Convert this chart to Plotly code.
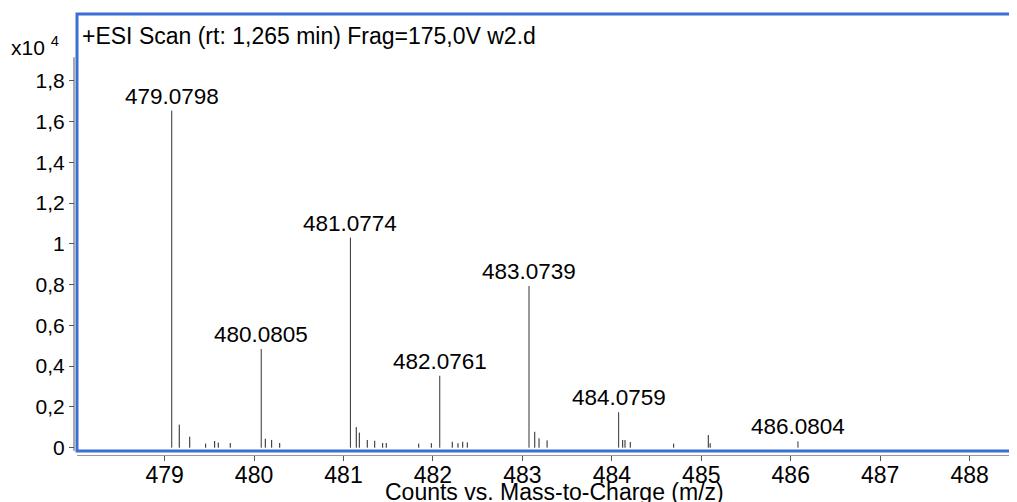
import plotly.graph_objects as go

# Labelled (main) peaks: m/z and intensity (counts)
main_mz = [479.0798, 480.0805, 481.0774, 482.0761, 483.0739, 484.0759, 486.0804]
main_int = [16530, 4840, 10300, 3530, 7930, 1740, 310]

# Minor unlabelled peaks
minor_mz = [479.164, 479.281, 479.459, 479.560, 479.600, 479.734,
            480.126, 480.197, 480.287,
            481.143, 481.177, 481.266, 481.349, 481.438, 481.478, 481.841, 481.982,
            482.216, 482.280, 482.333, 482.384,
            483.138, 483.186, 483.276,
            484.121, 484.147, 484.206, 484.691,
            485.078, 485.099]
minor_int = [1130, 540, 200, 330, 250, 230,
             440, 380, 230,
             1010, 740, 380, 340, 230, 230, 200, 220,
             290, 220, 290, 260,
             780, 460, 360,
             380, 380, 280, 200,
             620, 220]

# Axis ticks
y_tickvals = [0, 2000, 4000, 6000, 8000, 10000, 12000, 14000, 16000, 18000]
y_ticktext = ["0", "0,2", "0,4", "0,6", "0,8", "1", "1,2", "1,4", "1,6", "1,8"]
x_tickvals = [479, 480, 481, 482, 483, 484, 485, 486, 487, 488]

title_text = "+ESI Scan (rt: 1,265 min) Frag=175,0V w2.d"
x_title = "Counts vs. Mass-to-Charge (m/z)"
scale_text = "x10 <sup>4</sup>"

FONT = "Liberation Sans, Arial, sans-serif"


def sticks(mz, inten):
    xs, ys = [], []
    for m, h in zip(mz, inten):
        xs += [m, m, None]
        ys += [0, h, None]
    return xs, ys


fig = go.Figure()
mx, my = sticks(minor_mz, minor_int)
fig.add_trace(go.Scatter(x=mx, y=my, mode="lines",
                         line=dict(color="#222222", width=1), hoverinfo="skip"))
px_, py_ = sticks(main_mz, main_int)
fig.add_trace(go.Scatter(x=px_, y=py_, mode="lines",
                         line=dict(color="#333333", width=1), hoverinfo="skip"))

# The page body has an 8px margin, so the figure starts at (8, 8) in the window.
OFF = 8
W, H = 1017 - OFF, 502 - OFF
L, R, T, B = 74 - OFF, 0, 14 - OFF, 502 - 455
pw, ph = W - L - R, H - T - B


def px_x(x):  # window pixel -> paper x
    return (x - OFF - L) / pw


def px_y(y):  # window pixel -> paper y
    return (T + ph - (y - OFF)) / ph


annotations = []
for m, h in zip(main_mz, main_int):
    annotations.append(dict(x=m, y=h, xref="x", yref="y", text=f"{m:.4f}",
                            showarrow=False, xanchor="center", yanchor="bottom",
                            yshift=0, font=dict(size=22.5, color="#000000", family=FONT)))

annotations.append(dict(x=px_x(80), y=px_y(36), xref="paper", yref="paper",
                        text=title_text, showarrow=False, xanchor="left", yanchor="middle",
                        font=dict(size=23, color="#000000", family=FONT)))
annotations.append(dict(x=px_x(9), y=px_y(46), xref="paper", yref="paper",
                        text=scale_text, showarrow=False, xanchor="left", yanchor="middle",
                        font=dict(size=21, color="#000000", family=FONT)))
annotations.append(dict(x=px_x(554), y=px_y(492), xref="paper", yref="paper",
                        text=x_title, showarrow=False, xanchor="center", yanchor="middle",
                        font=dict(size=23, color="#000000", family=FONT)))

shapes = [
    # blue frame of the plotting region
    dict(type="rect", xref="x domain", yref="y domain", x0=0, x1=1.05, y0=0, y1=1,
         line=dict(color="#3a6fd6", width=3), layer="above"),
    # y axis line (offset to the left of the frame)
    dict(type="line", xref="paper", yref="y", x0=0, x1=0, y0=-160, y1=19150,
         line=dict(color="#555555", width=1)),
]

fig.update_layout(
    width=W, height=H,
    margin=dict(l=L, r=R, t=T, b=B, pad=0, autoexpand=False),
    paper_bgcolor="white", plot_bgcolor="white",
    showlegend=False,
    font=dict(family=FONT, color="#000000"),
    xaxis=dict(domain=[(77 - 74) / pw, 1], range=[478.021, 488.529],
               anchor="free", position=0, automargin=False,
               tickvals=x_tickvals, ticks="outside", ticklen=5, tickcolor="#555555",
               ticklabelstandoff=-6,
               showline=True, linecolor="#999999", linewidth=1,
               showgrid=False, zeroline=False,
               tickfont=dict(size=23, color="#000000", family=FONT)),
    yaxis=dict(domain=[4 / ph, 1], range=[-162, 21270],
               anchor="free", position=0, automargin=False,
               tickvals=y_tickvals, ticktext=y_ticktext,
               ticks="outside", ticklen=5, tickcolor="#555555",
               showline=False, showgrid=False, zeroline=False,
               tickfont=dict(size=21, color="#000000", family=FONT)),
    annotations=annotations,
    shapes=shapes,
)

fig.write_html("out.html")
